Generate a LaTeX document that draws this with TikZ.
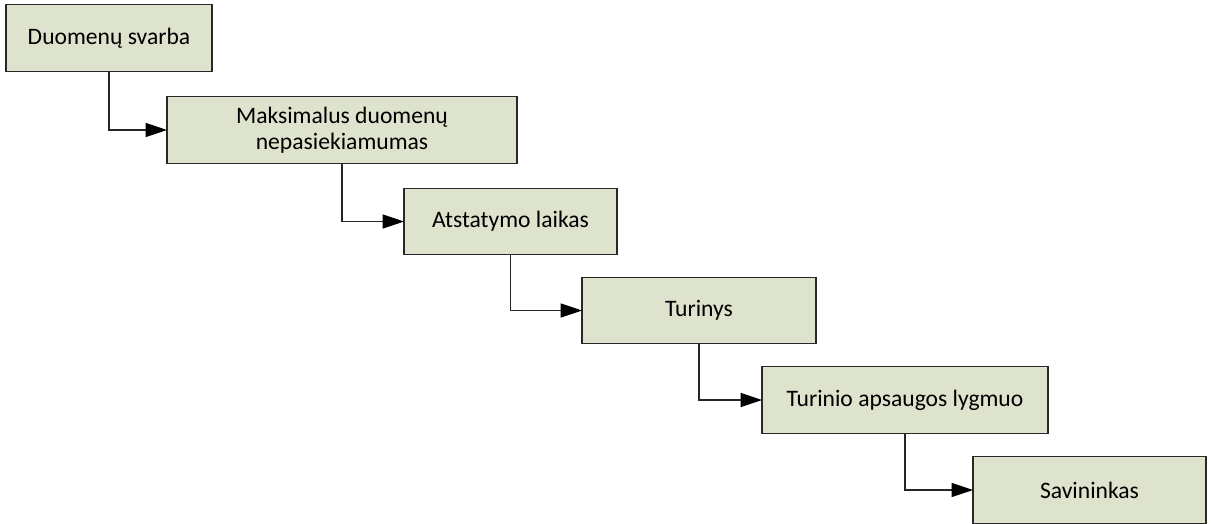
\documentclass[tikz,border=0pt]{standalone}
\usepackage{fontspec}
\setmainfont{Carlito}
\usetikzlibrary{arrows.meta}
\definecolor{boxfill}{RGB}{221,227,204}
\definecolor{boxline}{RGB}{40,40,40}
\begin{document}
\begin{tikzpicture}[x=0.75pt,y=-0.75pt,
  stepbox/.style={draw=boxline,fill=boxfill,line width=0.8pt,inner sep=0pt,outer sep=0pt,
    align=center,font=\fontsize{17.7}{19.5}\selectfont,minimum height=50pt},
  link/.style={draw=black!85,line width=0.8pt,-{Triangle[length=16pt,width=10.5pt,fill=black,color=black]}}]
\useasboundingbox (0,0) rectangle (1212,524);
\node[stepbox,minimum width=154.5pt] (a) at (109,38) {Duomenų svarba};
\node[stepbox,minimum width=262.5pt] (b) at (342,130) {Maksimalus duomenų\\nepasiekiamumas};
\node[stepbox,minimum width=159.75pt] (c) at (510.5,221.5) {Atstatymo laikas};
\node[stepbox,minimum width=175.5pt] (d) at (699,310.5) {Turinys};
\node[stepbox,minimum width=214.5pt] (e) at (905,400) {Turinio apsaugos lygmuo};
\node[stepbox,minimum width=174.75pt] (f) at (1089.5,490) {Savininkas};
\draw[link] (a.south) |- (b.west);
\draw[link] (b.south) |- (c.west);
\draw[link] (c.south) |- (d.west);
\draw[link] (d.south) |- (e.west);
\draw[link] (e.south) |- (f.west);
\end{tikzpicture}
\end{document}
